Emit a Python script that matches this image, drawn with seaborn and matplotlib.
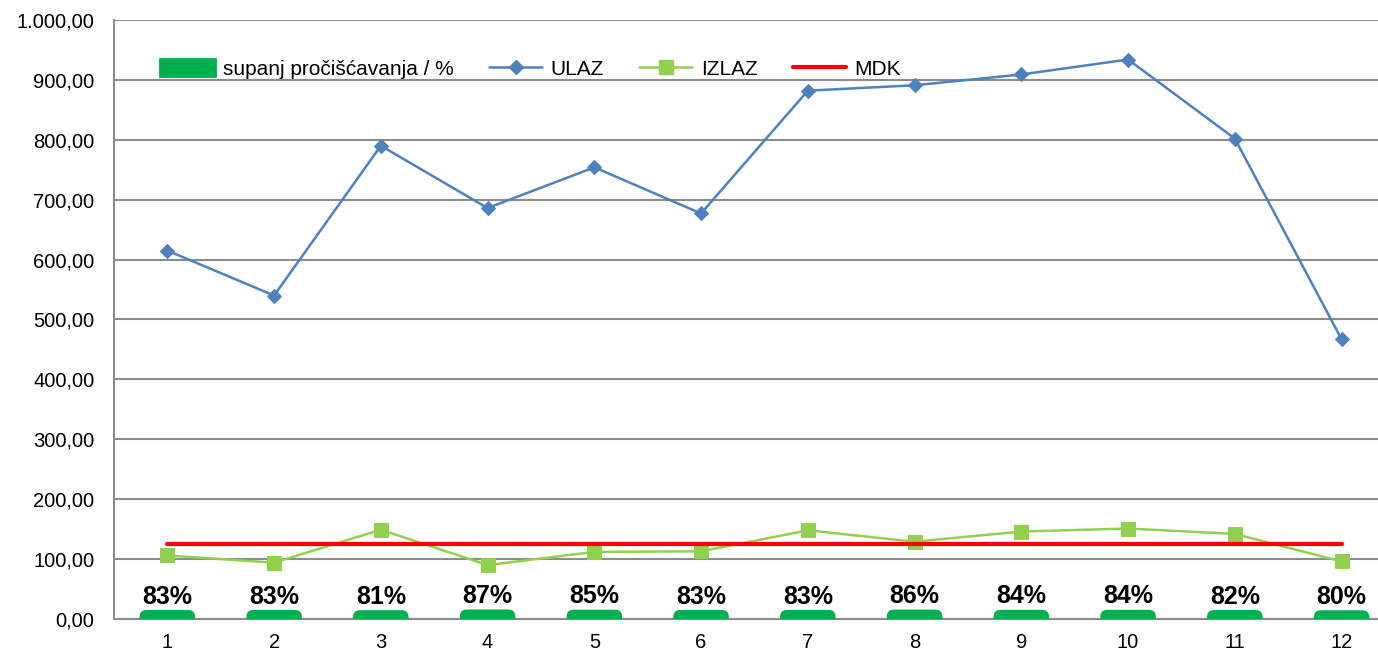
import numpy as np
import seaborn as sns
import matplotlib.pyplot as plt
from matplotlib.lines import Line2D
from matplotlib.patches import Patch, FancyBboxPatch
from matplotlib.ticker import FuncFormatter, MultipleLocator

months = ["1", "2", "3", "4", "5", "6", "7", "8", "9", "10", "11", "12"]
ulaz = [615, 540, 790, 686, 754, 677, 882, 891, 909, 934, 802, 467]
izlaz = [106, 94, 149, 90, 112, 113, 148, 129, 146, 151, 142, 96]
mdk = [125] * 12
stupanj = [0.83, 0.83, 0.81, 0.87, 0.85, 0.83, 0.83, 0.86, 0.84, 0.84, 0.82, 0.80]

BLUE = "#4F81BD"
LGREEN = "#92D050"
DGREEN = "#00B050"
RED = "#FF0000"
GRID = "#8C8C8C"


def hr_number(v, _):
    s = "{:,.2f}".format(v)
    return s.replace(",", "X").replace(".", ",").replace("X", ".")


def round_bars(fig, ax, ymax, radius=0.065):
    # swap seaborn's square bars for ones with rounded tops
    bbox = ax.get_position()
    w_px = bbox.width * fig.get_figwidth() * fig.dpi
    h_px = bbox.height * fig.get_figheight() * fig.dpi
    xr = ax.get_xlim()
    aspect = (w_px / (xr[1] - xr[0])) / (h_px / ymax)
    for bar in ax.patches:
        x, w, h = bar.get_x(), bar.get_width(), bar.get_height()
        dy = radius * aspect
        box = FancyBboxPatch((x, -dy), w, h + dy,
                             boxstyle="round,pad=0,rounding_size={}".format(radius),
                             mutation_aspect=aspect, facecolor=DGREEN,
                             edgecolor="none", clip_on=True)
        ax.add_patch(box)
        box.set_clip_box(ax.bbox)
        bar.set_visible(False)


def main():
    sns.set_style("white")
    plt.rcParams["font.family"] = ["Liberation Sans", "DejaVu Sans"]
    plt.rcParams["text.color"] = "black"
    plt.rcParams["xtick.color"] = "black"
    plt.rcParams["ytick.color"] = "black"

    fig = plt.figure(figsize=(13.78, 6.53), dpi=100)
    ax = fig.add_axes([0.0827, 0.0521, 0.9296, 0.9173])
    ax2 = ax.twinx()

    # percentage bars on a hidden second axis
    ymax2 = 55
    sns.barplot(x=months, y=stupanj, ax=ax2, color=DGREEN, width=0.52,
                saturation=1)
    ax2.set_xlim(-0.5, len(months) - 0.5)
    ax2.set_ylim(0, ymax2)
    ax2.bar_label(ax2.containers[0], labels=["{:.0%}".format(p) for p in stupanj],
                  padding=1, fontsize=18, fontweight="bold", color="black")
    round_bars(fig, ax2, ymax2)
    ax2.set_yticks([])
    ax2.set_ylabel("")
    for sp in ax2.spines.values():
        sp.set_visible(False)

    pos = np.arange(len(months))
    sns.lineplot(x=pos, y=ulaz, ax=ax, color=BLUE, marker="D", markersize=7,
                 markeredgecolor=BLUE, linewidth=1.8)
    sns.lineplot(x=pos, y=izlaz, ax=ax, color=LGREEN, marker="s", markersize=10,
                 markeredgecolor=LGREEN, linewidth=1.8)
    sns.lineplot(x=pos, y=mdk, ax=ax, color=RED, linewidth=3)

    ax.set_xlim(-0.5, len(months) - 0.5)
    ax.set_ylim(0, 1000)
    ax.yaxis.set_major_locator(MultipleLocator(100))
    ax.yaxis.set_major_formatter(FuncFormatter(hr_number))
    ax.set_xticks(pos)
    ax.set_xticklabels(months)
    ax.tick_params(axis="y", length=0, pad=14, labelsize=14.5)
    ax.tick_params(axis="x", length=0, pad=10, labelsize=14.5)
    ax.set_axisbelow(True)
    ax.yaxis.grid(color=GRID, linestyle="solid", linewidth=1.5)
    ax.xaxis.grid(False)
    for side in ["top", "right"]:
        ax.spines[side].set_visible(False)
    for side in ["left", "bottom"]:
        ax.spines[side].set_color(GRID)
        ax.spines[side].set_linewidth(1.5)
    ax.set_xlabel("")
    ax.set_ylabel("")

    handles = [
        Patch(facecolor=DGREEN, edgecolor=DGREEN, linewidth=3.5, joinstyle="round"),
        Line2D([], [], color=BLUE, marker="D", markersize=7, linewidth=1.8),
        Line2D([], [], color=LGREEN, marker="s", markersize=10, linewidth=1.8),
        Line2D([], [], color=RED, linewidth=3),
    ]
    labels = ["supanj pročišćavanja / %", "ULAZ", "IZLAZ", "MDK"]
    ax2.legend(handles, labels, loc="center left", bbox_to_anchor=(0.037, 0.918),
               ncol=4, frameon=False, fontsize=15, handlelength=2.55,
               handleheight=0.7, handletextpad=0.4, columnspacing=1.7,
               borderpad=0, borderaxespad=0)

    fig.savefig("out.png", dpi=100)
    plt.close()


if __name__ == "__main__":
    main()
